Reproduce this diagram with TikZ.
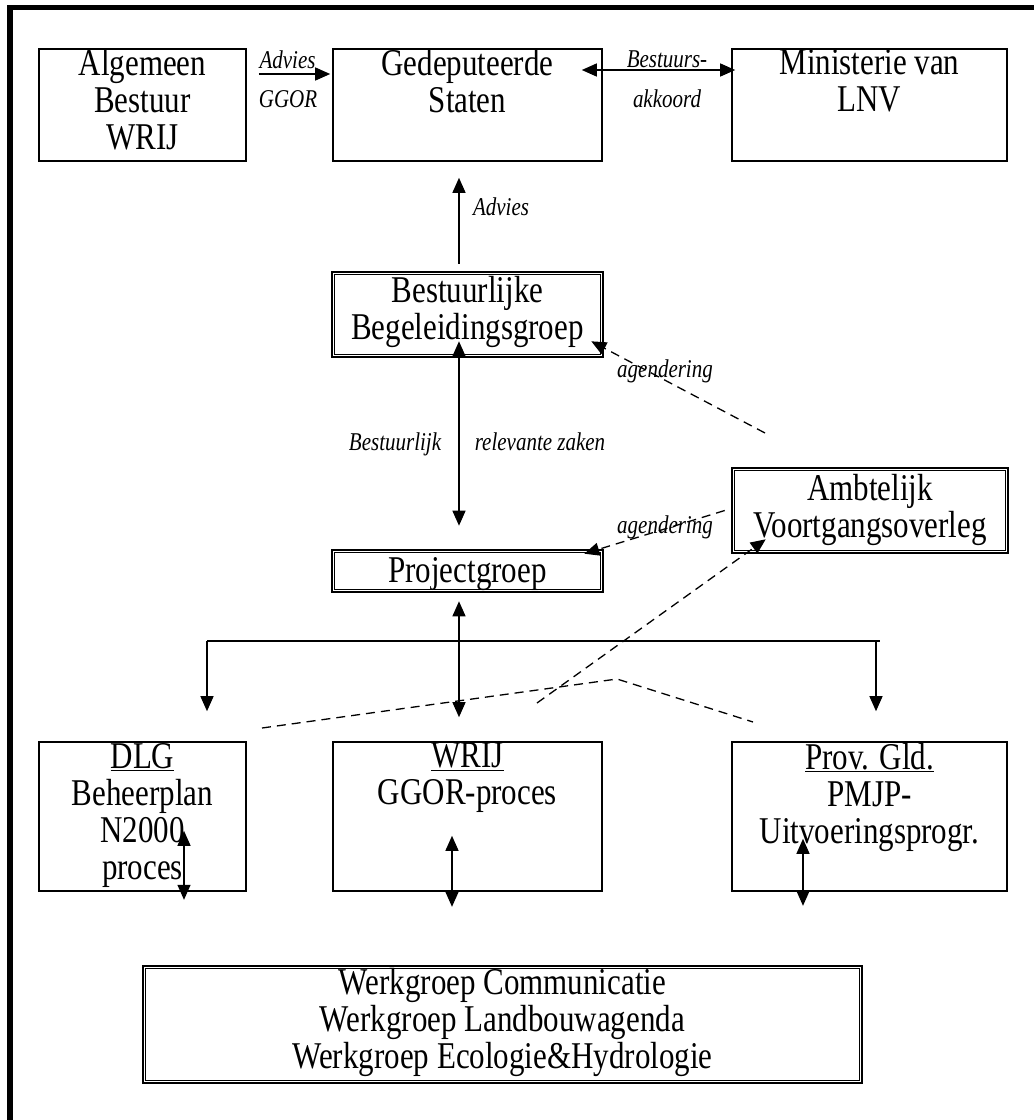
\documentclass[tikz,border=0pt]{standalone}
\usepackage{fontspec}
\setmainfont{Liberation Serif}
\newfontfamily\tallserif[FakeStretch=0.82]{Liberation Serif}
\usetikzlibrary{arrows.meta}
\newcommand\innerframe[1]{\draw[line width=1.1pt] ([shift={(3.8,3.8)}]#1.north west) rectangle ([shift={(-3.8,-3.8)}]#1.south east);}
\begin{document}
\begin{tikzpicture}[x=1pt,y=-1pt,
  sbox/.style={draw, line width=1.6pt, inner sep=0pt},
  dbox/.style={draw, line width=2.6pt, inner sep=0pt},
  txt/.style={align=center, inner sep=0pt, anchor=north, font=\tallserif\fontsize{37.8}{37}\selectfont, execute at begin node={\rule{0pt}{29pt}}},
  lab/.style={inner sep=0pt, anchor=base, font=\tallserif\fontsize{25.6}{30}\selectfont\itshape},
  conn/.style={line width=1.3pt},
  ar/.style={conn, -{Triangle[length=15pt,width=13pt]}},
  dar/.style={conn, {Triangle[length=15pt,width=13pt]}-{Triangle[length=15pt,width=13pt]}},
  dsh/.style={conn, dash pattern=on 9pt off 6pt}
]
\useasboundingbox (0,0) rectangle (1034,1120);
% outer frame
\draw[line width=5.5pt] (10,1125) -- (10,7.5) -- (1040,7.5);

% boxes
\node[sbox, minimum width=207, minimum height=112] (ab) at (142.5,105) {};
\node[sbox, minimum width=269, minimum height=112] (gs) at (467.5,105) {};
\node[sbox, minimum width=275, minimum height=112] (mn) at (869.5,105) {};
\node[dbox, minimum width=271, minimum height=85] (bb) at (467.5,314.5) {};
\node[dbox, minimum width=276, minimum height=85] (av) at (870,510.5) {};
\node[dbox, minimum width=271, minimum height=42] (pg) at (467.5,571) {};
\node[sbox, minimum width=207, minimum height=149] (dl) at (142.5,816.5) {};
\node[sbox, minimum width=269, minimum height=149] (wr) at (467.5,816.5) {};
\node[sbox, minimum width=275, minimum height=149] (pv) at (869.5,816.5) {};
\node[dbox, minimum width=719, minimum height=117] (wg) at (502.5,1024.5) {};
\innerframe{bb}
\innerframe{av}
\innerframe{pg}
\innerframe{wg}

% texts
\node[txt] (abt) at (142.5,49) {Algemeen\\Bestuur\\WRIJ};
\node[txt] (gst) at (467.5,49) {Gedeputeerde\\Staten};
\node[txt] (mnt) at (869.5,49) {Ministerie van\\LNV};
\node[txt] (bbt) at (467.5,276) {Bestuurlijke\\Begeleidingsgroep};
\node[txt] (avt) at (870,474) {Ambtelijk\\Voortgangsoverleg};
\node[txt] (pgt) at (467.5,553) {Projectgroep};
\node[txt] (dlt) at (142.5,743) {\underline{DLG}\\Beheerplan\\N2000\\proces};
\node[txt] (wrt) at (467.5,743) {\underline{WRIJ}\\GGOR-proces};
\node[txt] (pvt) at (869.5,743) {\underline{Prov. Gld.}\\PMJP-\\Uitvoeringsprogr.};
\node[txt] (wgt) at (502.5,968) {Werkgroep Communicatie\\Werkgroep Landbouwagenda\\Werkgroep Ecologie\&Hydrologie};

% labels
\node[lab] (l1) at (287.5,68) {Advies};
\node[lab] (l2) at (288,107) {GGOR};
\node[lab] (l3) at (667,67) {Bestuurs-};
\node[lab] (l4) at (667,107) {akkoord};
\node[lab] (l5) at (501,215) {Advies};
\node[lab] (l6) at (665,377) {agendering};
\node[lab] (l7) at (395,450) {Bestuurlijk};
\node[lab] (l8) at (540,450) {relevante zaken};
\node[lab] (l9) at (665,533) {agendering};

% connectors
\draw[ar] ([shift={(12,-31)}]ab.east) -- ([shift={(-2,-31)}]gs.west);
\draw[dar] ([shift={(-21,-35)}]gs.east) -- ([shift={(4,-35)}]mn.west);
\draw[ar] ([shift={(-8.5,-7)}]bb.north) -- ([shift={(-8.5,16)}]gs.south);
\draw[dar] ([shift={(-8.5,-17)}]bb.south) -- ([shift={(-8.5,-23)}]pg.north);

\coordinate (a1) at (765,433);
\draw[dsh, -{Triangle[length=15pt,width=13pt]}] (a1) -- ([shift={(-13,-17)}]bb.south east);
\draw[dsh, -{Triangle[length=15pt,width=13pt]}] ([shift={(-6,0)}]av.west) -- ([shift={(-20,5)}]pg.north east);
\coordinate (a3) at (537,703);
\draw[dsh, -{Triangle[length=15pt,width=13pt]}] (a3) -- ([shift={(35,-15)}]av.south west);
\coordinate (p1) at (262,728);
\coordinate (p2) at (617,679);
\coordinate (p3) at (753,722);
\draw[dsh] (p1) -- (p2) -- (p3);

\draw[dar] ([shift={(-8.5,8)}]pg.south) -- ([shift={(-8.5,-24)}]wr.north);
\coordinate (hl) at (207,641);
\coordinate (hr) at (880,641);
\coordinate (hr2) at (876,641);
\draw[conn] (hl) -- (hr);
\draw[ar] (hl) -- ([shift={(64.5,-30)}]dl.north);
\draw[ar] (hr2) -- ([shift={(6.5,-30)}]pv.north);

\draw[dar] ([shift={(41.5,-61)}]dl.south) -- ([shift={(41.5,8)}]dl.south);
\draw[dar] ([shift={(-15.5,-56)}]wr.south) -- ([shift={(-15.5,15)}]wr.south);
\draw[dar] ([shift={(-66.5,-53)}]pv.south) -- ([shift={(-66.5,14)}]pv.south);
\end{tikzpicture}
\end{document}
